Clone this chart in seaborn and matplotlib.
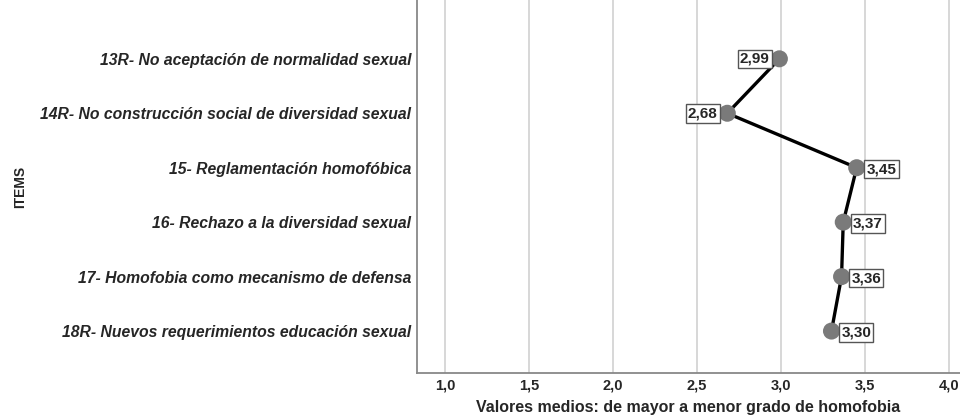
import pandas as pd
import numpy as np
import matplotlib.pyplot as plt
import seaborn as sns

items = [
    "13R- No aceptación de normalidad sexual",
    "14R- No construcción social de diversidad sexual",
    "15- Reglamentación homofóbica",
    "16- Rechazo a la diversidad sexual",
    "17- Homofobia como mecanismo de defensa",
    "18R- Nuevos requerimientos educación sexual",
]
medias = [2.99, 2.68, 3.45, 3.37, 3.36, 3.30]
x_ticks = [1.0, 1.5, 2.0, 2.5, 3.0, 3.5, 4.0]

df = pd.DataFrame({"item": items, "media": medias, "pos": range(len(items))})

sns.set_style("white")
plt.rcParams["font.family"] = ["Liberation Sans", "DejaVu Sans"]

fig = plt.figure(figsize=(9.6, 4.19), dpi=100)
ax = fig.add_axes([417 / 960, 46 / 419, 543 / 960, 373 / 419])

for xv in x_ticks:
    ax.axvline(xv, color="#d4d4d4", lw=1.3, zorder=0)

sns.lineplot(data=df, x="media", y="pos", sort=False, orient="y", color="black",
             lw=2.4, ax=ax, zorder=2)
sns.scatterplot(data=df, x="media", y="pos", color="#7a7a7a", s=150,
                edgecolor="none", ax=ax, zorder=3)

for _, r in df.iterrows():
    txt = f"{r['media']:.2f}".replace(".", ",")
    if r["media"] < 3.1:
        off, ha = (-7, 0), "right"
    else:
        off, ha = (7, -1), "left"
    ax.annotate(txt, (r["media"], r["pos"]), xytext=off, textcoords="offset points",
                ha=ha, va="center", fontsize=11, fontweight="bold", zorder=4,
                bbox=dict(boxstyle="square,pad=0.15", fc="white", ec="#555555", lw=1))

ax.set_xlim(0.833, 4.065)
ax.set_ylim(5.77, -1.08)
ax.set_xticks(x_ticks)
ax.set_xticklabels([f"{v:.1f}".replace(".", ",") for v in x_ticks],
                   fontsize=10.5, fontweight="bold")
ax.set_yticks(df["pos"])
ax.set_yticklabels(df["item"], fontsize=11.3, fontweight="bold", style="italic")
ax.tick_params(axis="y", length=0, pad=4)
ax.tick_params(axis="x", length=0, pad=4)

for s in ["top", "right"]:
    ax.spines[s].set_visible(False)
for s in ["left", "bottom"]:
    ax.spines[s].set_color("#888888")
    ax.spines[s].set_linewidth(1.3)

ax.set_xlabel("Valores medios: de mayor a menor grado de homofobia",
              fontsize=11.5, fontweight="bold", labelpad=5)
ax.set_ylabel("ITEMS", fontsize=10, fontweight="bold")
ax.yaxis.set_label_coords(-0.718, 0.5)

fig.savefig("out.png", dpi=100)
